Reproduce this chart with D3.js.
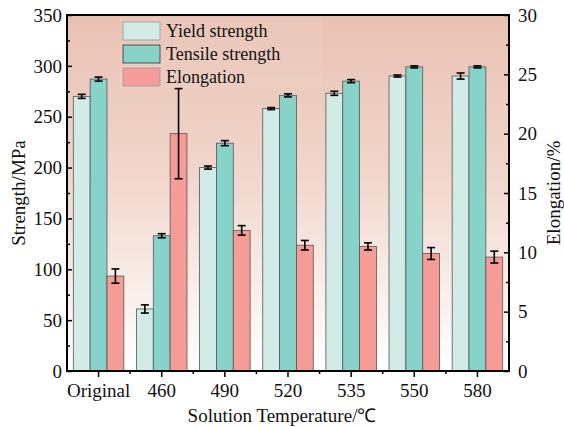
<!doctype html>
<html>
<head>
<meta charset="UTF-8">
<script src="https://d3js.org/d3.v7.min.js"></script>
<style>
  body { margin: 0; background: #fff; }
  svg text { font-family: "Liberation Serif", "Times New Roman", serif; fill: #111; }
</style>
</head>
<body>
<script>
const categories = ["Original", "460", "490", "520", "535", "550", "580"];
const seriesNames = ["Yield strength", "Tensile strength", "Elongation"];
const yieldStrength = [270, 61, 200, 258, 273, 290, 290];
const yieldErr = [2, 4, 1.5, 1, 2, 1, 3];
const tensileStrength = [287, 133, 224, 271, 285, 299, 299];
const tensileErr = [2, 2, 2.5, 1.5, 1.5, 1, 1];
const elongation = [8.0, 20.0, 11.85, 10.6, 10.5, 9.9, 9.6];
const elongationErr = [0.6, 3.8, 0.4, 0.4, 0.3, 0.5, 0.5];
const leftTicks = [0, 50, 100, 150, 200, 250, 300, 350];
const rightTicks = [0, 5, 10, 15, 20, 25, 30];
const colors = ["#d2ebe7", "#88d3c9", "#f59c97"];

const W = 564, H = 427;
const m = { left: 67, right: 509, top: 15, bottom: 371 };

const svg = d3.select("body").append("svg").attr("width", W).attr("height", H);

const defs = svg.append("defs");
const grad = defs.append("linearGradient").attr("id", "bg")
  .attr("x1", 0).attr("y1", 0).attr("x2", 0).attr("y2", 1);
grad.append("stop").attr("offset", "0%").attr("stop-color", "#e9c1b3");
grad.append("stop").attr("offset", "45%").attr("stop-color", "#f1d6cc");
grad.append("stop").attr("offset", "100%").attr("stop-color", "#ffffff");

svg.append("rect").attr("x", m.left).attr("y", m.top)
  .attr("width", m.right - m.left).attr("height", m.bottom - m.top)
  .attr("fill", "url(#bg)");

const x0 = d3.scaleBand().domain(categories).range([m.left, m.right])
  .paddingInner(0.2).paddingOuter(0.1);
const x1 = d3.scaleBand().domain(seriesNames).range([0, x0.bandwidth()]);
const yL = d3.scaleLinear().domain([0, 350]).range([m.bottom, m.top]);
const yR = d3.scaleLinear().domain([0, 30]).range([m.bottom, m.top]);

// legend background
svg.append("rect").attr("x", 120).attr("y", 17).attr("width", 202).attr("height", 71)
  .attr("fill", "#ffffff").attr("opacity", 0.07);

const rows = [];
categories.forEach((c, i) => {
  rows.push({ c, s: seriesNames[0], v: yieldStrength[i], e: yieldErr[i], y: yL, col: colors[0] });
  rows.push({ c, s: seriesNames[1], v: tensileStrength[i], e: tensileErr[i], y: yL, col: colors[1] });
  rows.push({ c, s: seriesNames[2], v: elongation[i], e: elongationErr[i], y: yR, col: colors[2] });
});

svg.append("g").selectAll("rect").data(rows).enter().append("rect")
  .attr("x", d => x0(d.c) + x1(d.s))
  .attr("y", d => d.y(d.v))
  .attr("width", x1.bandwidth())
  .attr("height", d => m.bottom - d.y(d.v))
  .attr("fill", d => d.col)
  .attr("stroke", "#555")
  .attr("stroke-width", 0.8);

const eb = svg.append("g").attr("stroke", "#000").attr("stroke-width", 1.6);
rows.forEach(d => {
  const cx = x0(d.c) + x1(d.s) + x1.bandwidth() / 2;
  const y1 = d.y(d.v + d.e), y2 = d.y(d.v - d.e);
  eb.append("line").attr("x1", cx).attr("x2", cx).attr("y1", y1).attr("y2", y2);
  eb.append("line").attr("x1", cx - 4).attr("x2", cx + 4).attr("y1", y1).attr("y2", y1);
  eb.append("line").attr("x1", cx - 4).attr("x2", cx + 4).attr("y1", y2).attr("y2", y2);
});

// axes
const leftAxis = svg.append("g").attr("transform", `translate(${m.left},0)`)
  .call(d3.axisRight(yL).tickValues(leftTicks).tickSize(5).tickFormat(""));
leftAxis.append("g").call(d3.axisRight(yL).tickValues(d3.range(25, 350, 50)).tickSize(3).tickFormat(""));
leftTicks.forEach(t => {
  svg.append("text").attr("x", m.left - 5).attr("y", yL(t)).attr("dy", "0.35em")
    .attr("text-anchor", "end").style("font-size", "19px").text(t);
});

const rightAxis = svg.append("g").attr("transform", `translate(${m.right},0)`)
  .call(d3.axisLeft(yR).tickValues(rightTicks).tickSize(5).tickFormat(""));
rightAxis.append("g").call(d3.axisLeft(yR).tickValues(d3.range(2.5, 30, 5)).tickSize(3).tickFormat(""));
rightTicks.forEach(t => {
  svg.append("text").attr("x", m.right + 9).attr("y", yR(t)).attr("dy", "0.35em")
    .attr("text-anchor", "start").style("font-size", "19px").text(t);
});

const bottomAxis = svg.append("g").attr("transform", `translate(0,${m.bottom})`)
  .call(d3.axisBottom(x0).tickSize(6).tickPadding(7));
bottomAxis.selectAll("text").style("font-size", "19px").style("font-family", "Liberation Serif");
const minorX = categories.slice(1).map(c => x0(c) - x0.step() * x0.paddingInner() / 2);
bottomAxis.selectAll("line.minor").data(minorX).enter().append("line")
  .attr("x1", d => d).attr("x2", d => d).attr("y1", 0).attr("y2", 3);

[leftAxis, rightAxis, bottomAxis].forEach(a => {
  a.selectAll(".domain").remove();
  a.selectAll("line").attr("stroke", "#000").attr("stroke-width", 1.5);
});

const frame = svg.append("g").attr("stroke", "#000").attr("stroke-width", 2).attr("fill", "none");
frame.append("line").attr("x1", m.left).attr("x2", m.left).attr("y1", m.top - 1).attr("y2", m.bottom + 1);
frame.append("line").attr("x1", m.right).attr("x2", m.right).attr("y1", m.top - 1).attr("y2", m.bottom + 1);
frame.append("line").attr("x1", m.left - 1).attr("x2", m.right + 1).attr("y1", m.bottom).attr("y2", m.bottom);
frame.append("line").attr("x1", m.left - 1).attr("x2", m.right + 1).attr("y1", m.top).attr("y2", m.top);

// axis titles
svg.append("text").attr("transform", `translate(18,${(m.top + m.bottom) / 2}) rotate(-90)`)
  .attr("text-anchor", "middle").attr("dy", "0.35em").style("font-size", "19px").text("Strength/MPa");
svg.append("text").attr("transform", `translate(553,${(m.top + m.bottom) / 2}) rotate(-90)`)
  .attr("text-anchor", "middle").attr("dy", "0.35em").style("font-size", "19px").text("Elongation/%");
svg.append("text").attr("x", (m.left + m.right) / 2 - 6).attr("y", 422)
  .attr("text-anchor", "middle").style("font-size", "19px").text("Solution Temperature/\u2103");

// legend
const lg = svg.append("g");
seriesNames.forEach((s, i) => {
  const yy = 22 + i * 23;
  lg.append("rect").attr("x", 123).attr("y", yy).attr("width", 37).attr("height", 18)
    .attr("fill", colors[i]).attr("stroke", i === 1 ? "#333" : "#999").attr("stroke-width", 0.8);
  lg.append("text").attr("x", 166).attr("y", yy + 9).attr("dy", "0.35em")
    .style("font-size", "18px").text(s);
});
</script>
</body>
</html>
